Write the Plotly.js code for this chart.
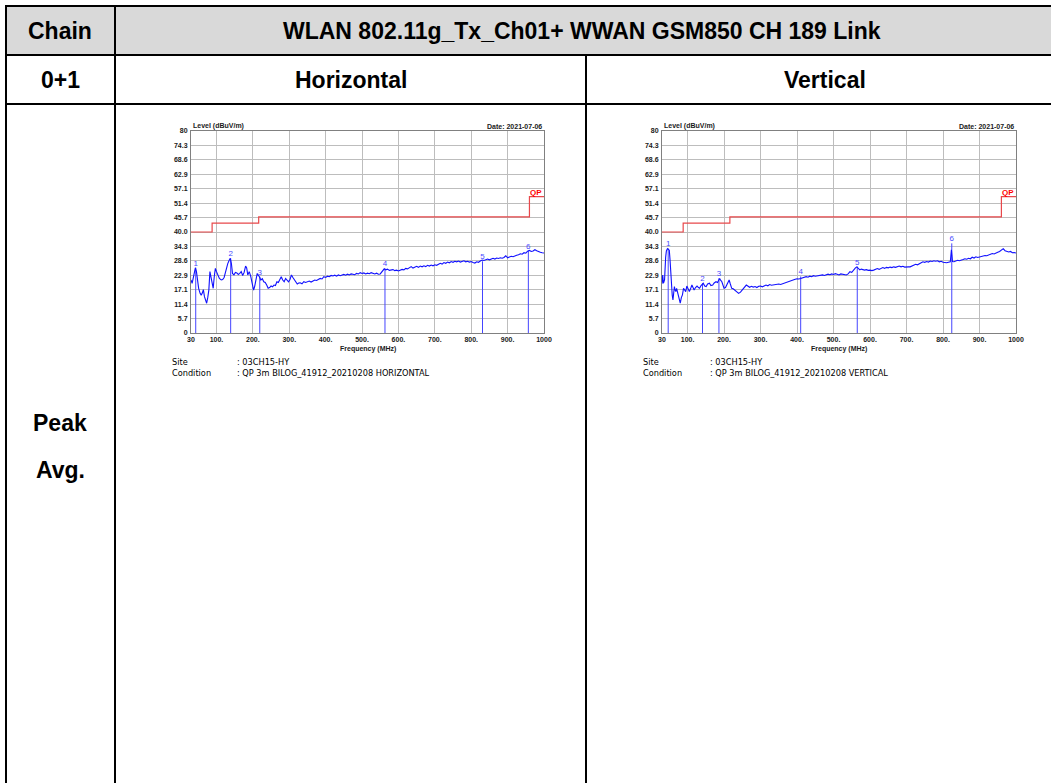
<!DOCTYPE html>
<html>
<head>
<meta charset="utf-8">
<script src="https://cdn.plot.ly/plotly-3.0.1.min.js"></script>
<style>html,body{margin:0;padding:0;background:#fff;}#chart{width:1051px;height:783px;}</style>
</head>
<body>
<div id="chart"></div>
<script>
// ---------- DATA ----------
const tableTitle = "WLAN 802.11g_Tx_Ch01+ WWAN GSM850 CH 189 Link";
const yTickVals = [0,5.7,11.4,17.1,22.9,28.6,34.3,40.0,45.7,51.4,57.1,62.9,68.6,74.3,80];
const yTickText = ["0","5.7","11.4","17.1","22.9","28.6","34.3","40.0","45.7","51.4","57.1","62.9","68.6","74.3","80"];
const xTickVals = [30,100,200,300,400,500,600,700,800,900,1000];
const xTickText = ["30","100.","200.","300.","400.","500.","600.","700.","800.","900.","1000"];

const limitFreq = [30,88,216,960,1000];
const limitLevel = [40.0,43.5,46.0,54.0,54.0];

const hFreq = [
 30,33,36,40,42,45,48,51,55,58, 61,64,67,70,73,76,79,82,85,88,
 91,94,97,100,104,108,113,117,121,126, 131,135,138,141,144,148,152,156,160,164,
 168,172,176,180,183,186,190,194,198,202, 205,208,212,215,218,222,226,230,234,238,
 242,246,250,254,258,262,266,270,274,278, 282,286,290,294,298,302,306,310,314,318,
 322,326,330,
 335,340,345,350,355,360,365,370,375,380, 385,390,395,400,405,410,415,420,425,430,
 435,440,445,450,455,460,465,470,475,480, 485,490,495,500,505,510,515,520,525,530,
 535,540,545,550,555,
 558,561,
 565,570,575,580,585,590,595,600,605,610, 615,620,625,630,635,640,645,650,655,660,
 665,670,675,680,685,690,695,700,705,710, 715,720,725,730,735,740,745,750,755,760,
 765,770,775,780,785,790,795,800,805,810, 815,820,825,830,835,840,845,850,855,860,
 865,870,875,880,885,890,895,900,905,910, 915,920,925,930,935,940,945,950,955,960,
 965,970,975,980,985,990,995,1000];
const hLevel = [
 21.0,19.7,21.6,24.5,25.8,24.3,20.0,17.7,15.7,15.0, 15.8,17.2,14.4,13.0,11.8,14.0,17.0,24.3,22.0,21.0,
 17.7,22.5,25.6,24.3,22.5,21.6,21.0,21.2,22.0,24.9, 27.5,28.8,29.6,27.5,23.6,23.0,24.0,23.8,23.2,23.6,
 24.3,22.8,24.0,26.5,25.8,23.0,24.3,22.5,19.7,17.0, 18.5,21.6,23.6,22.8,22.3,21.0,21.5,20.3,20.0,19.0,
 17.7,18.0,18.6,18.3,19.0,18.8,20.3,20.0,21.5,22.3, 21.0,20.3,21.6,21.0,20.3,21.2,23.0,22.0,21.0,20.0,
 19.4,19.8,19.9,
 19.5,20.3,20.0,20.3,20.6,20.2,20.7,21.0,20.8,21.2, 21.6,21.4,22.3,22.0,22.5,22.3,22.8,22.6,22.9,22.5,
 23.0,22.7,23.0,23.2,22.9,23.3,23.0,23.4,23.3,23.1, 23.6,23.4,23.9,23.6,23.8,23.4,23.7,23.5,23.9,23.6,
 23.4,23.7,23.3,23.4,24.4,
 25.0,25.4,
 25.0,25.3,24.8,24.9,25.1,24.7,24.9,24.6,24.8,25.2, 25.0,25.6,25.4,25.9,26.3,25.7,26.1,26.4,26.0,26.5,
 26.2,26.6,26.3,26.8,26.5,26.9,26.6,27.0,26.8,27.2, 27.6,27.3,27.9,27.6,28.1,27.8,28.3,28.0,28.4,28.2,
 28.5,28.1,28.3,28.6,28.2,28.4,28.1,28.3,27.9,27.7, 28.2,28.0,28.5,28.9,28.7,29.1,29.3,29.0,29.4,29.6,
 29.3,29.7,29.5,29.8,29.6,29.9,30.6,29.8,30.1,30.4, 30.2,30.6,30.8,31.0,31.4,31.2,31.8,31.6,32.4,32.7,
 32.3,32.5,33.0,32.6,32.2,32.0,31.8,31.7];

const vFreq = [
 30,32,34,37,40,42,45,48,50,52, 54,56,58,60,62,64,66,68,70,72,
 75,78,80,83,86,89,92,95,98,101, 105,109,112,115,118,122,126,130,133,137,
 140,143,147,151,155,160,164,169,173,178, 182,185,188,191,194,197,200,204,208,211,
 214,217,221,225,230,235,240,245,249,253, 257,261,265,
 270,275,280,285,290,295,300,305,310,315, 320,325,330,335,340,345,350,355,360,365,
 370,375,380,385,390,395,400,405,410,415, 420,425,430,435,440,445,450,455,460,465,
 470,475,480,485,490,495,500,505,510,515, 520,525,530,535,540,
 545,550,555,560,564,568,572,576,
 580,585,590,595,600,605,610,615,620,625, 630,635,640,645,650,655,660,665,670,675,
 680,685,690,695,700,705,710,715,720,725, 730,735,740,745,750,755,760,765,770,775,
 780,785,790,795,800,805,810,815,820,
 823,826,
 830,835,840,845,850,855,860,865,870,875, 880,885,890,895,900,905,910,915,920,925,
 930,935,940,945,950,955,960,965,970,975, 980,985,990,995,1000];
const vLevel = [
 19.5,23.0,19.7,21.0,30.0,32.5,33.4,33.0,32.8,29.0, 23.0,18.4,15.0,13.1,16.0,18.4,17.0,16.4,17.7,16.5,
 14.4,12.5,11.8,14.0,15.1,17.7,17.0,16.4,18.6,17.5, 16.4,17.8,19.0,18.0,17.0,18.0,18.6,18.0,17.7,18.8,
 19.2,19.7,18.6,18.4,19.4,19.7,18.8,19.0,19.8,20.3, 20.0,21.0,21.6,20.8,20.3,19.0,17.7,18.0,19.0,20.0,
 21.0,19.5,17.7,17.5,17.0,16.5,15.7,16.2,17.0,17.8, 18.5,19.0,18.6,
 18.1,18.5,18.2,18.4,18.0,18.5,18.6,18.3,18.8,19.0, 18.7,19.2,18.9,19.0,19.3,19.1,19.4,19.2,19.5,19.8,
 19.9,20.2,20.4,20.8,21.0,21.3,21.5,21.4,21.6,21.9, 22.0,22.3,22.1,22.5,22.3,22.7,22.5,22.6,22.9,22.7,
 23.0,22.8,23.0,23.3,23.1,23.4,23.2,23.5,23.3,23.0, 23.4,23.2,23.3,23.0,23.4,
 24.3,24.0,25.0,25.8,26.2,25.5,25.0,25.3,
 25.2,24.9,25.1,24.8,24.9,24.7,24.9,25.3,25.5,25.2, 25.6,25.9,25.6,26.0,25.8,26.1,25.9,26.2,26.0,26.3,
 26.5,26.2,26.4,26.1,26.3,26.2,26.2,26.6,26.9,27.2, 27.0,27.4,27.8,28.2,28.0,28.3,28.1,28.5,28.3,28.6,
 28.4,28.6,28.2,28.4,28.0,27.9,27.8,28.0,28.2,
 33.0,28.3,
 28.2,28.6,28.8,28.6,29.0,29.1,29.4,29.2,29.6,29.4, 30.0,29.7,30.2,29.9,30.1,30.4,30.4,30.7,30.6,30.9,
 31.2,31.5,31.3,31.8,32.0,32.3,32.8,33.4,32.6,32.4, 32.1,32.3,31.8,31.9,31.7];

const hMarkFreq = [43,139,219,563,831,957];
const hMarkLevel = [25.9,29.6,22.3,25.6,28.4,32.6];
const vMarkFreq = [47,141,186,410,565,824];
const vMarkLevel = [33.5,19.7,21.7,22.4,26.3,35.5];
const markLabels = ["1","2","3","4","5","6"];

const siteText = ": 03CH15-HY";
const hCondition = ": QP 3m BILOG_41912_20210208 HORIZONTAL";
const vCondition = ": QP 3m BILOG_41912_20210208 VERTICAL";
const dateText = "Date: 2021-07-06";

// ---------- HELPERS ----------
const W = 1051, H = 783;
const px = x => x / W;
const py = y => 1 - y / H;

function markerLines(f, v) {
  const xs = [], ys = [];
  f.forEach((fr, i) => { xs.push(fr, fr, null); ys.push(0, v[i], null); });
  return {xs, ys};
}

const tickFont = {family: "Liberation Sans, Arial", size: 7, color: "#1a1a1a", weight: "bold"};

function axes(domX, domY, anchorX, anchorY) {
  const common = {showgrid: true, gridcolor: "#bdbdbd", gridwidth: 1, showline: true,
    linecolor: "#808080", linewidth: 1, mirror: true, ticks: "", zeroline: false,
    tickfont: tickFont, fixedrange: true};
  return [
    Object.assign({}, common, {domain: domX, range: [30, 1000], anchor: anchorY,
      tickmode: "array", tickvals: xTickVals, ticktext: xTickText, ticklabelstandoff: 0}),
    Object.assign({}, common, {domain: domY, range: [0, 80], anchor: anchorX,
      tickmode: "array", tickvals: yTickVals, ticktext: yTickText, ticklabelstandoff: 1})
  ];
}

const yDom = [py(333), py(131)];
const [xa1, ya1] = axes([px(191), px(544)], yDom, "x", "y");
const [xa2, ya2] = axes([px(662), px(1016)], yDom, "x2", "y2");

function chartTraces(xr, yr, f, v, mf, mv) {
  const m = markerLines(mf, mv);
  return [
    {x: limitFreq, y: limitLevel, xaxis: xr, yaxis: yr, mode: "lines", line: {color: "#e8484b", width: 1.2, shape: "hv"}, hoverinfo: "skip"},
    {x: m.xs, y: m.ys, xaxis: xr, yaxis: yr, mode: "lines", line: {color: "#4444ff", width: 1}, hoverinfo: "skip"},
    {x: f, y: v, xaxis: xr, yaxis: yr, mode: "lines", line: {color: "#1010ff", width: 1.1}, hoverinfo: "skip"},
    {x: mf, y: mv, xaxis: xr, yaxis: yr, mode: "text", text: markLabels, textposition: "top center",
      textfont: {family: "Liberation Sans, Arial", size: 8, color: "#4a4aff"}, cliponaxis: false, hoverinfo: "skip"}
  ];
}

const traces = [].concat(
  chartTraces("x", "y", hFreq, hLevel, hMarkFreq, hMarkLevel),
  chartTraces("x2", "y2", vFreq, vLevel, vMarkFreq, vMarkLevel)
);

// ---------- TABLE ----------
const lineStyle = {color: "#000", width: 2};
const shapes = [
  {type: "rect", xref: "paper", yref: "paper", x0: px(6), x1: 1, y0: py(55), y1: py(6), fillcolor: "#d9d9d9", line: {width: 0}, layer: "below"},
  {type: "line", xref: "paper", yref: "paper", x0: px(5), x1: 1, y0: py(6), y1: py(6), line: lineStyle},
  {type: "line", xref: "paper", yref: "paper", x0: px(5), x1: 1, y0: py(55), y1: py(55), line: lineStyle},
  {type: "line", xref: "paper", yref: "paper", x0: px(5), x1: 1, y0: py(104), y1: py(104), line: lineStyle},
  {type: "line", xref: "paper", yref: "paper", x0: px(6), x1: px(6), y0: py(5), y1: 0, line: lineStyle},
  {type: "line", xref: "paper", yref: "paper", x0: px(115), x1: px(115), y0: py(5), y1: 0, line: lineStyle},
  {type: "line", xref: "paper", yref: "paper", x0: px(586), x1: px(586), y0: py(55), y1: 0, line: lineStyle}
];

const cellFont = {family: "Liberation Sans, Arial", size: 23, color: "#000", weight: "bold"};
function cellText(text, x, y) {
  return {text, x: px(x), y: py(y), xref: "paper", yref: "paper", xanchor: "center", yanchor: "middle", showarrow: false, font: cellFont};
}
const smallBold = {family: "Liberation Sans, Arial", size: 7, color: "#1a1a1a", weight: "bold"};
function chartAnn(xr, yr) {
  return [
    {text: "Level (dBuV/m)", xref: xr + " domain", yref: yr + " domain", x: 0, y: 1, xanchor: "left", yanchor: "bottom", showarrow: false, font: smallBold, yshift: -1},
    {text: dateText, xref: xr + " domain", yref: yr + " domain", x: 1, y: 1, xanchor: "right", yanchor: "bottom", showarrow: false, font: smallBold, yshift: -1},
    {text: "QP", xref: xr, yref: yr, x: 1000, y: 54, xanchor: "right", yanchor: "bottom", showarrow: false,
      font: {family: "Liberation Sans, Arial", size: 8, color: "#ff0000", weight: "bold"}, yshift: -2},
    {text: "Frequency (MHz)", xref: xr + " domain", yref: yr + " domain", x: 0.5, y: 0, xanchor: "center", yanchor: "top", showarrow: false, font: smallBold, yshift: -10}
  ];
}
const infoFont = {family: "DejaVu Sans", size: 8.2, color: "#000"};
function info(text, x, y) {
  return {text, x: px(x), y: py(y), xref: "paper", yref: "paper", xanchor: "left", yanchor: "middle", showarrow: false, font: infoFont};
}

const annotations = [
  cellText("Chain", 60, 31),
  cellText(tableTitle, 582, 31),
  cellText("0+1", 60, 80),
  cellText("Horizontal", 351, 80),
  cellText("Vertical", 825, 80),
  cellText("Peak", 60, 423),
  cellText("Avg.", 60, 470),
  info("Site", 170, 362), info(siteText, 235, 362),
  info("Condition", 170, 373), info(hCondition, 235, 373),
  info("Site", 641, 362), info(siteText, 708, 362),
  info("Condition", 641, 373), info(vCondition, 708, 373)
].concat(chartAnn("x", "y"), chartAnn("x2", "y2"));

const layout = {
  width: W, height: H, margin: {l: 0, r: 0, t: 0, b: 0},
  paper_bgcolor: "#fff", plot_bgcolor: "#fff", showlegend: false,
  xaxis: xa1, yaxis: ya1, xaxis2: xa2, yaxis2: ya2,
  shapes, annotations
};

Plotly.newPlot("chart", traces, layout, {displayModeBar: false, staticPlot: true});
</script>
</body>
</html>
